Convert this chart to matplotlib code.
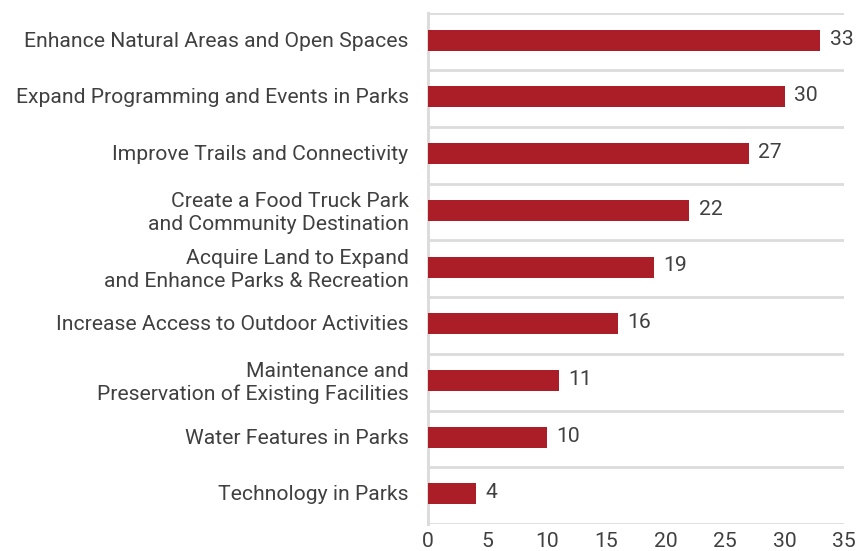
import matplotlib.pyplot as plt
import numpy as np

plt.rcParams["font.family"] = ["Roboto", "DejaVu Sans"]

categories = [
    "Enhance Natural Areas and Open Spaces",
    "Expand Programming and Events in Parks",
    "Improve Trails and Connectivity",
    "Create a Food Truck Park\nand Community Destination",
    "Acquire Land to Expand\nand Enhance Parks & Recreation",
    "Increase Access to Outdoor Activities",
    "Maintenance and\nPreservation of Existing Facilities",
    "Water Features in Parks",
    "Technology in Parks",
]
values = [33, 30, 27, 22, 19, 16, 11, 10, 4]

BAR = "#AB1E27"
GRID = "#DCDCDC"
TEXT = "#404040"

fig = plt.figure(figsize=(8.58, 5.51), dpi=100)
ax = fig.add_axes([0.4988, 0.0490, 0.4849, 0.9265])

y = np.arange(len(categories))
ax.barh(y - 0.03, values, height=0.37, color=BAR, zorder=3)
for yi, v in zip(y, values):
    ax.text(v + 0.8, yi - 0.05, str(v), va="center", ha="left", fontsize=15.2, color=TEXT)

ax.set_ylim(len(categories) - 0.5, -0.5)
ax.set_xlim(0, 35)
ax.set_xticks(range(0, 36, 5))
ax.set_yticks(y - 0.05)
ax.set_yticklabels(categories, fontsize=15.2, color=TEXT, linespacing=1.25)
ax.tick_params(axis="x", labelsize=15.2, colors=TEXT, length=0, pad=6)
ax.tick_params(axis="y", length=0, pad=14)

ax.set_yticks(np.arange(-0.5, len(categories), 1), minor=True)
ax.tick_params(axis="y", which="minor", length=0)
ax.grid(axis="y", which="minor", color=GRID, linewidth=2, zorder=0)
ax.grid(axis="x", visible=False)

for side in ("top", "right", "bottom"):
    ax.spines[side].set_visible(False)
ax.spines["left"].set_color(GRID)
ax.spines["left"].set_linewidth(2.2)

fig.savefig("out.png", dpi=100)
